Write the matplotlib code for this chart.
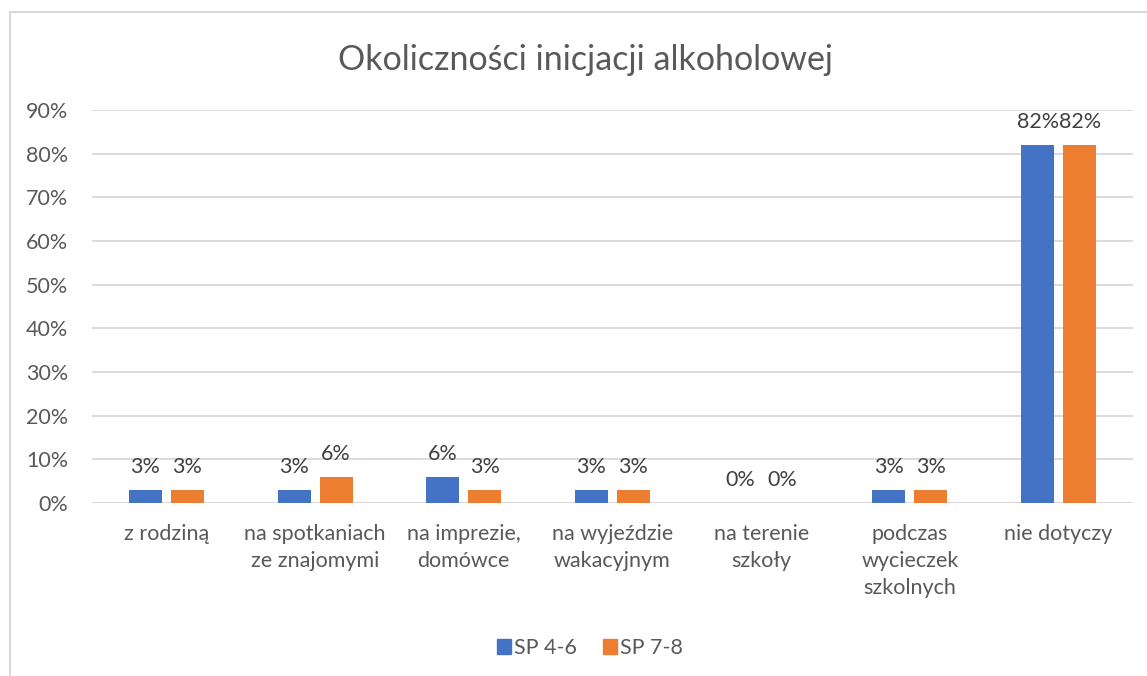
import matplotlib.pyplot as plt
import numpy as np
from matplotlib.patches import Rectangle, Patch
from matplotlib.ticker import PercentFormatter

plt.rcParams['font.family'] = ['Lato', 'DejaVu Sans']

categories = ["z rodziną", "na spotkaniach\nze znajomymi", "na imprezie,\ndomówce",
              "na wyjeździe\nwakacyjnym", "na terenie\nszkoły", "podczas\nwycieczek\nszkolnych",
              "nie dotyczy"]
sp46 = [0.03, 0.03, 0.06, 0.03, 0.00, 0.03, 0.82]
sp78 = [0.03, 0.06, 0.03, 0.03, 0.00, 0.03, 0.82]
series_names = ["SP 4-6", "SP 7-8"]
colors = ["#4472C4", "#ED7D31"]
text_col = "#595959"
grid_col = "#D9D9D9"

W, H = 1147, 676
fig = plt.figure(figsize=(W / 100, H / 100), dpi=100)
ax = fig.add_axes([92 / W, 1 - 503 / H, (1133 - 92) / W, (503 - 110) / H])

x = np.arange(len(categories))
bw = 0.222
off = 0.141
for vals, name, col, dx in zip([sp46, sp78], series_names, colors, [-off, off]):
    bars = ax.bar(x + dx, vals, width=bw, color=col, label=name, zorder=3)
    for b, v in zip(bars, vals):
        ax.annotate(f"{v * 100:.0f}%", (b.get_x() + b.get_width() / 2, v),
                    xytext=(0, 9), textcoords="offset points",
                    ha="center", va="bottom", fontsize=15.5, color="#404040")

ax.set_xlim(-0.5, len(categories) - 0.5)
ax.set_ylim(0, 0.9)
ax.set_yticks(np.arange(0, 0.91, 0.1))
ax.yaxis.set_major_formatter(PercentFormatter(1.0, decimals=0))
ax.set_xticks(x)
ax.set_xticklabels(categories, linespacing=1.45)
ax.tick_params(axis="both", length=0, colors=text_col, labelsize=15.5)
ax.tick_params(axis="y", pad=17)
ax.tick_params(axis="x", pad=15)
for lbl in ax.get_xticklabels():
    lbl.set_verticalalignment("top")
ax.grid(axis="y", color=grid_col, linewidth=1.3, zorder=0)
for s in ax.spines.values():
    s.set_visible(False)
ax.axhline(0, color=grid_col, linewidth=1.3, zorder=2)

fig.text(585 / W, 1 - 60 / H, "Okoliczności inicjacji alkoholowej",
         ha="center", va="center", fontsize=24.5, color=text_col)

handles = [Patch(color=c, label=n) for c, n in zip(colors, series_names)]
fig.legend(handles=handles, loc="center", bbox_to_anchor=(590 / W, 1 - 648 / H),
           ncol=2, frameon=False, fontsize=15.5, labelcolor=text_col,
           handlelength=0.65, handleheight=0.65, handletextpad=0.15, columnspacing=1.2)

fig.patches.append(Rectangle((10 / W, -0.1), 1.2, 1.1 - 12 / H, transform=fig.transFigure,
                             fill=False, edgecolor=grid_col, linewidth=1.5))

fig.savefig("out.png", dpi=100)
